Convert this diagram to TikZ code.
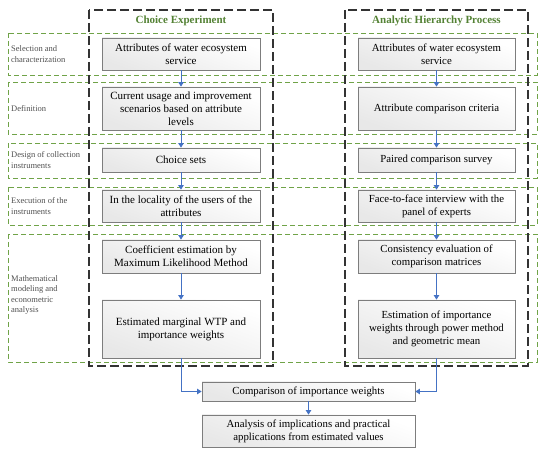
\documentclass[tikz,border=0pt]{standalone}
\usepackage{fontspec}
\setmainfont{Liberation Serif}
\usetikzlibrary{arrows.meta}
\definecolor{rowgreen}{RGB}{112,163,72}
\definecolor{titlegreen}{RGB}{84,130,53}
\definecolor{arrowblue}{RGB}{68,114,196}
\definecolor{boxgray}{RGB}{125,125,125}
\definecolor{lblgray}{RGB}{80,80,80}
\tikzset{
  rowbox/.style={draw=rowgreen, dash pattern=on 5pt off 3pt, line width=0.9pt},
  colbox/.style={draw=black!80, dash pattern=on 9pt off 4pt, line width=1.4pt},
  stepbox/.style={draw=boxgray, line width=0.8pt, shading=axis, top color=white, bottom color=black!9, shading angle=-20, align=center, inner sep=2pt},
  lbox/.style={stepbox, minimum width=158pt, font=\fontsize{11}{13}\selectfont},
  rbox/.style={stepbox, minimum width=157pt, font=\fontsize{10.8}{13}\selectfont},
  lbl/.style={anchor=west, align=left, text=lblgray, inner sep=0pt, font=\fontsize{8.5}{10.3}\selectfont},
  ttl/.style={text=titlegreen, font=\fontsize{11}{12}\selectfont\bfseries},
  arr/.style={draw=arrowblue, line width=1pt, -{Triangle[width=5.5pt,length=4.5pt]}},
}
\begin{document}
\begin{tikzpicture}[x=1pt,y=-1pt]
\useasboundingbox (0,0) rectangle (550,454);
% green rows
\draw[rowbox] (8,33) rectangle (537,75);
\draw[rowbox] (8,82) rectangle (537,134);
\draw[rowbox] (8,143) rectangle (537,178);
\draw[rowbox] (8,187) rectangle (537,225);
\draw[rowbox] (8,234) rectangle (537,362);
% black columns
\draw[colbox] (89,10) rectangle (273,366);
\draw[colbox] (345,10) rectangle (528,366);
% titles
\node[ttl] (t1) at (181,21) {Choice Experiment};
\node[ttl] (t2) at (436.5,21) {Analytic Hierarchy Process};
% row labels
\node[lbl] (s1) at (11,54) {Selection and\\characterization};
\node[lbl] (s2) at (11,108.5) {Definition};
\node[lbl] (s3) at (11,160) {Design of collection\\instruments};
\node[lbl] (s4) at (11,206) {Execution of the\\instruments};
\node[lbl] (s5) at (11,295) {Mathematical\\modeling and\\econometric\\analysis};
% left column
\node[lbox, minimum height=32pt] (l1) at (181,54) {Attributes of water ecosystem\\service};
\node[lbox, minimum height=43pt] (l2) at (181,108.5) {Current usage and improvement\\scenarios based on attribute\\levels};
\node[lbox, minimum height=24pt] (l3) at (181,160) {Choice sets};
\node[lbox, minimum height=32pt] (l4) at (181,206) {In the locality of the users of the\\attributes};
\node[lbox, minimum height=33pt] (l5) at (181,256.5) {Coefficient estimation by\\Maximum Likelihood Method};
\node[lbox, minimum height=58pt] (l6) at (181,329) {Estimated marginal WTP and\\importance weights};
% right column
\node[rbox, minimum height=32pt] (r1) at (436.5,54) {Attributes of water ecosystem\\service};
\node[rbox, minimum height=43pt] (r2) at (436.5,108.5) {Attribute comparison criteria};
\node[rbox, minimum height=24pt] (r3) at (436.5,160) {Paired comparison survey};
\node[rbox, minimum height=32pt] (r4) at (436.5,206) {Face-to-face interview with the\\panel of experts};
\node[rbox, minimum height=33pt] (r5) at (436.5,256.5) {Consistency evaluation of\\comparison matrices};
\node[rbox, minimum height=58pt] (r6) at (436.5,329) {Estimation of importance\\weights through power method\\and geometric mean};
% bottom
\node[rbox, minimum width=213pt, minimum height=19pt] (c) at (308.5,391.5) {Comparison of importance weights};
\node[rbox, minimum width=213pt, minimum height=32pt] (a) at (308.5,431) {Analysis of implications and practical\\applications from estimated values};
% arrows
\foreach \i/\j in {1/2,2/3,3/4,4/5,5/6}{
  \draw[arr] (l\i) -- (l\j);
  \draw[arr] (r\i) -- (r\j);
}
\draw[arr] (l6.south) |- (c.west);
\draw[arr] (r6.south) |- (c.east);
\draw[arr] (c) -- (a);
\end{tikzpicture}
\end{document}
